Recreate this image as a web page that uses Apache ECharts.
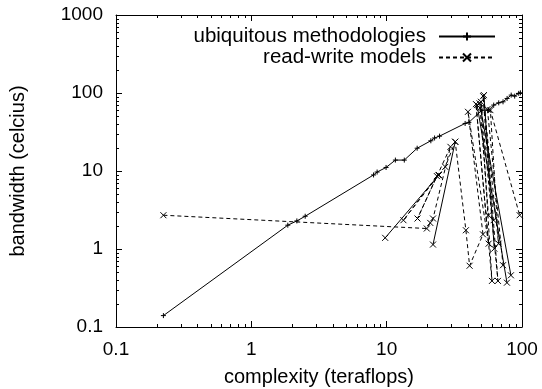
<!DOCTYPE html>
<html>
<head>
<meta charset="utf-8">
<script src="https://cdn.jsdelivr.net/npm/echarts@6/dist/echarts.min.js"></script>
<style>
  html, body { margin: 0; padding: 0; background: #fff; }
  #chart { width: 542px; height: 389px; }
</style>
</head>
<body>
<div id="chart"></div>
<script>
// ubiquitous methodologies (solid, + markers)
const ubiqX = [0.224, 1.86, 2.17, 2.50, 8.0, 8.5, 9.9, 11.6, 13.5, 16.8, 21.2, 22.6, 24.6, 38.0, 40.5, 50.6, 56.7, 61.8, 67.3, 72.4, 77.6, 83.2, 88.3, 94.6, 97.3]
const ubiqY = [0.14, 2.02, 2.29, 2.63, 8.9, 9.7, 11.1, 13.8, 13.8, 19.6, 24.4, 26.5, 28.0, 40.7, 42.0, 60.3, 60.3, 70.0, 74.8, 77.1, 85.1, 94.0, 91.2, 98.9, 100.6]

// read-write models (dashed, x markers); null splits the path
const rwDashX = [0.224, 19.8, 21.0, 22.0, 29.6, 16.9, 23.5, 13.3, 24.3, 27.1, 32.1, 38.5, 41.0, 51.5, 39.9, 56.7, 45.7, 60.0, 49.7, 66.4, 52.3, 62.4, 51.6, 67.1, 58.4, 96.1,
  null, 55.5, 72.4,
  null, 49.0, 56.5, 61.7]
const rwDashY = [2.71, 1.83, 2.16, 2.46, 20.4, 2.46, 8.6, 2.34, 8.9, 11.3, 23.7, 1.74, 0.61, 1.54, 57.4, 1.17, 72.0, 0.39, 77.2, 0.39, 94.0, 1.01, 91.0, 1.17, 60.3, 2.71,
  null, 62.0, 0.62,
  null, 64.0, 2.71, 2.34]

// parts of read-write models that read as solid
const rwSolidX = [9.75, 24.2, null, 22.0, 32.1, null, 46.6, 77.4, null, 48.6, 82.8]
const rwSolidY = [1.39, 8.8, null, 1.14, 23.7, null, 70.0, 0.37, null, 73.6, 0.46]

const xTicks = [0.1, 1, 10, 100]
const yTicks = [0.1, 1, 10, 100, 1000]

const FONT = '"Liberation Sans", Arial, sans-serif'
const PLUS = 'path://M0,4L8,4M4,0L4,8'
const CROSS = 'path://M0,0L8,8M8,0L0,8'

function segments(xs, ys) {
  const out = []
  let cur = []
  xs.forEach((x, i) => {
    if (x === null) {
      if (cur.length) out.push(cur)
      cur = []
    } else {
      cur.push([x, ys[i]])
    }
  })
  if (cur.length) out.push(cur)
  return out
}

function lineSeries(name, data, dashed, symbol, size) {
  return {
    name,
    type: 'line',
    data,
    symbol,
    symbolSize: size,
    symbolKeepAspect: true,
    showSymbol: true,
    lineStyle: { color: '#000', width: 1, type: dashed ? [4, 3] : 'solid' },
    itemStyle: { color: 'rgba(0,0,0,0)', borderColor: '#000', borderWidth: 1 },
    emphasis: { disabled: true },
    silent: true,
  }
}

const series = [lineSeries('ubiquitous methodologies', ubiqX.map((x, i) => [x, ubiqY[i]]), false, PLUS, 5)]
segments(rwDashX, rwDashY).forEach((seg) => series.push(lineSeries('read-write models', seg, true, CROSS, 6)))
segments(rwSolidX, rwSolidY).forEach((seg) => series.push(lineSeries('read-write models', seg, false, CROSS, 6)))

const fmt = (v) => String(+Number(v).toPrecision(6))

const axisBase = {
  type: 'log',
  logBase: 10,
  axisLine: { show: true, lineStyle: { color: '#000', width: 1 } },
  axisTick: { show: true, inside: true, length: 6, lineStyle: { color: '#000' } },
  splitLine: { show: false },
  minorTick: { show: false },
}

const chart = echarts.init(document.getElementById('chart'), null, { renderer: 'canvas' })

chart.setOption({
  animation: false,
  backgroundColor: '#fff',
  grid: { left: 116, right: 20, top: 15, bottom: 62, containLabel: false, outerBoundsMode: 'none' },
  legend: {
    data: ['ubiquitous methodologies', 'read-write models'],
    orient: 'vertical',
    right: 41,
    top: 21,
    align: 'right',
    itemWidth: 56,
    itemHeight: 10,
    itemGap: 0,
    selectedMode: false,
    textStyle: { fontFamily: FONT, fontSize: 20.5, color: '#000', lineHeight: 20, padding: [0, 8, 0, 0] },
  },
  xAxis: [
    {
      ...axisBase,
      position: 'bottom',
      min: xTicks[0],
      max: xTicks[xTicks.length - 1],
      name: 'complexity (teraflops)',
      nameLocation: 'middle',
      nameGap: 40,
      nameTextStyle: { fontFamily: FONT, fontSize: 20, color: '#000' },
      axisLabel: { fontFamily: FONT, fontSize: 19, color: '#000', margin: 13, formatter: fmt },
    },
    {
      ...axisBase,
      position: 'top',
      min: xTicks[0],
      max: xTicks[xTicks.length - 1],
      axisLabel: { show: false },
    },
  ],
  yAxis: [
    {
      ...axisBase,
      position: 'left',
      min: yTicks[0],
      max: yTicks[yTicks.length - 1],
      name: 'bandwidth (celcius)',
      nameLocation: 'middle',
      nameGap: 88,
      nameTextStyle: { fontFamily: FONT, fontSize: 20, color: '#000' },
      axisLabel: { fontFamily: FONT, fontSize: 19, color: '#000', margin: 13, formatter: fmt },
    },
    {
      ...axisBase,
      position: 'right',
      min: yTicks[0],
      max: yTicks[yTicks.length - 1],
      axisLabel: { show: false },
    },
  ],
  series,
})

// minor ticks (2..9 in each decade) on all four sides
function drawMinorTicks() {
  const left = chart.convertToPixel({ xAxisIndex: 0 }, xTicks[0])
  const right = chart.convertToPixel({ xAxisIndex: 0 }, xTicks[xTicks.length - 1])
  const bottom = chart.convertToPixel({ yAxisIndex: 0 }, yTicks[0])
  const top = chart.convertToPixel({ yAxisIndex: 0 }, yTicks[yTicks.length - 1])
  const len = 3
  const els = []
  const style = { stroke: '#000', lineWidth: 1 }
  for (let i = 0; i < xTicks.length - 1; i++) {
    for (let k = 2; k <= 9; k++) {
      const px = Math.round(chart.convertToPixel({ xAxisIndex: 0 }, xTicks[i] * k)) + 0.5
      els.push({ type: 'line', shape: { x1: px, y1: bottom, x2: px, y2: bottom - len }, style, silent: true })
      els.push({ type: 'line', shape: { x1: px, y1: top, x2: px, y2: top + len }, style, silent: true })
    }
  }
  for (let i = 0; i < yTicks.length - 1; i++) {
    for (let k = 2; k <= 9; k++) {
      const py = Math.round(chart.convertToPixel({ yAxisIndex: 0 }, yTicks[i] * k)) + 0.5
      els.push({ type: 'line', shape: { x1: left, y1: py, x2: left + len, y2: py }, style, silent: true })
      els.push({ type: 'line', shape: { x1: right, y1: py, x2: right - len, y2: py }, style, silent: true })
    }
  }
  chart.setOption({ graphic: els })
}
drawMinorTicks()
</script>
</body>
</html>
